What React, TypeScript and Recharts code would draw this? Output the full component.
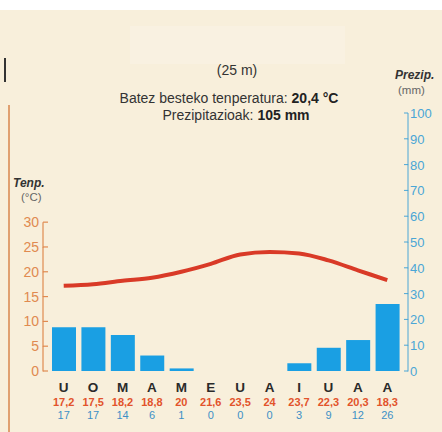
import { Bar, ComposedChart, Line, XAxis, YAxis } from 'recharts';

const MONTHS = ['U', 'O', 'M', 'A', 'M', 'E', 'U', 'A', 'I', 'U', 'A', 'A'];
const TEMPS = [17.2, 17.5, 18.2, 18.8, 20, 21.6, 23.5, 24, 23.7, 22.3, 20.3, 18.3];
const PRECIP = [17, 17, 14, 6, 1, 0, 0, 0, 3, 9, 12, 26];
const TEMP_TICKS = [0, 5, 10, 15, 20, 25, 30];
const PRECIP_TICKS = [0, 10, 20, 30, 40, 50, 60, 70, 80, 90, 100];

const TEMP_MAX = 52;
const PRECIP_MAX = 100;

const W = 442;
const H = 432;
const TOP = 113;
const BOTTOM = 371;
const PLOT_H = BOTTOM - TOP;

const ORANGE = '#e08a50';
const BLUE = '#4aa6d6';
const BAR = '#1a9fe3';
const RED = '#d93a27';
const BG = '#f8efdb';

const data = MONTHS.map((m, i) => ({ month: m, temp: TEMPS[i], precip: PRECIP[i] }));

const fmt = (v: number) => String(v).replace('.', ',');

function TempTick({ x, y, payload }: any) {
  const step = (5 * PLOT_H) / TEMP_MAX;
  const lx = x - 6;
  return (
    <g>
      <line x1={lx} y1={y} x2={lx + 5} y2={y} stroke={ORANGE} strokeWidth={1.2} />
      {payload.value < 30 && (
        <line x1={lx} y1={y + 0.5} x2={lx} y2={y - step} stroke={ORANGE} strokeWidth={1.2} />
      )}
      <text x={lx - 4} y={y + 5} textAnchor="end" fill={ORANGE} fontSize={14}>
        {payload.value}
      </text>
    </g>
  );
}

function PrecipTick({ x, y, payload }: any) {
  const step = (10 * PLOT_H) / PRECIP_MAX;
  const lx = x + 6;
  return (
    <g>
      <line x1={lx - 4} y1={y} x2={lx} y2={y} stroke={BLUE} strokeWidth={1} />
      {payload.value < 100 && (
        <line x1={lx} y1={y + 0.5} x2={lx} y2={y - step} stroke={BLUE} strokeWidth={1} />
      )}
      <text x={lx + 2} y={y + 5} textAnchor="start" fill={BLUE} fontSize={13}>
        {payload.value}
      </text>
    </g>
  );
}

function MonthTick({ x, y, payload }: any) {
  const i = payload.index;
  return (
    <g>
      <text x={x} y={y + 13} textAnchor="middle" fill="#2a2a2a" fontSize={13.5} fontWeight="bold">
        {MONTHS[i]}
      </text>
      <text x={x} y={y + 27} textAnchor="middle" fill="#e2532b" fontSize={11} fontWeight="bold">
        {fmt(TEMPS[i])}
      </text>
      <text x={x} y={y + 40} textAnchor="middle" fill="#3d8fc6" fontSize={11}>
        {PRECIP[i]}
      </text>
    </g>
  );
}

export default function App() {
  return (
    <div
      style={{
        position: 'absolute',
        left: 0,
        top: 0,
        width: W,
        height: H,
        background: BG,
        fontFamily: '"Liberation Sans", Arial, sans-serif',
        overflow: 'hidden',
      }}
    >
      <div style={{ position: 'absolute', left: 0, top: 0, width: W, height: 10, background: '#fff' }} />
      <div style={{ position: 'absolute', left: 130, top: 26, width: 215, height: 38, background: '#f9f1e1' }} />
      <div style={{ position: 'absolute', left: 4, top: 58, width: 2, height: 24, background: '#333' }} />
      <div style={{ position: 'absolute', left: 8, top: 105, width: 2, height: 330, background: '#e0a070' }} />

      <div style={{ position: 'absolute', left: 0, width: 474, top: 62, textAlign: 'center', fontSize: 14, color: '#333' }}>
        (25 m)
      </div>
      <div style={{ position: 'absolute', left: 0, width: 458, top: 90, textAlign: 'center', fontSize: 14, color: '#333' }}>
        Batez besteko tenperatura: <b style={{ color: '#222' }}>20,4 °C</b>
      </div>
      <div style={{ position: 'absolute', left: 0, width: 472, top: 107, textAlign: 'center', fontSize: 14, color: '#333' }}>
        Prezipitazioak: <b style={{ color: '#222' }}>105 mm</b>
      </div>

      <div style={{ position: 'absolute', left: 395, top: 68, fontSize: 12, fontStyle: 'italic', fontWeight: 'bold', color: '#333' }}>
        Prezip.
      </div>
      <div style={{ position: 'absolute', left: 398, top: 84, fontSize: 11.5, color: '#666' }}>(mm)</div>
      <div style={{ position: 'absolute', left: 13, top: 176, fontSize: 12, fontStyle: 'italic', fontWeight: 'bold', color: '#333' }}>
        Tenp.
      </div>
      <div style={{ position: 'absolute', left: 21, top: 191, fontSize: 11.5, color: '#666' }}>(°C)</div>

      <div style={{ position: 'absolute', left: 0, top: 0 }}>
        <ComposedChart
          width={W}
          height={H}
          data={data}
          margin={{ top: TOP, bottom: 0, left: 13, right: 10 }}
          barSize={24}
        >
          <XAxis
            dataKey="month"
            height={H - BOTTOM}
            axisLine={false}
            tickLine={false}
            interval={0}
            tick={<MonthTick />}
          />
          <YAxis
            yAxisId="t"
            orientation="left"
            width={36}
            domain={[0, TEMP_MAX]}
            ticks={TEMP_TICKS}
            allowDataOverflow
            axisLine={false}
            tickLine={false}
            tickSize={0}
            tickMargin={0}
            interval={0}
            tick={<TempTick />}
          />
          <YAxis
            yAxisId="p"
            orientation="right"
            width={30}
            domain={[0, PRECIP_MAX]}
            ticks={PRECIP_TICKS}
            axisLine={false}
            tickLine={false}
            tickSize={0}
            tickMargin={0}
            interval={0}
            tick={<PrecipTick />}
          />
          <Bar yAxisId="p" dataKey="precip" fill={BAR} isAnimationActive={false} />
          <Line
            yAxisId="t"
            type="monotone"
            dataKey="temp"
            stroke={RED}
            strokeWidth={4}
            dot={false}
            isAnimationActive={false}
          />
        </ComposedChart>
      </div>
    </div>
  );
}
